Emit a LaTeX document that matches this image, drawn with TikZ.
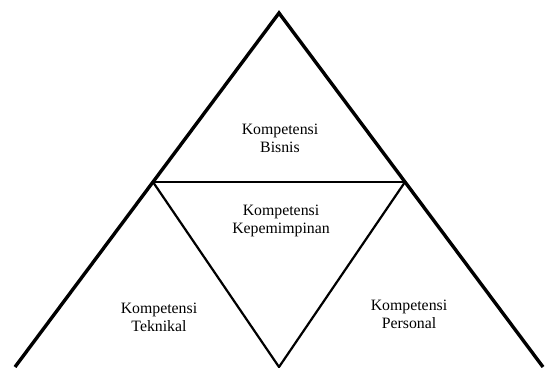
\documentclass[tikz,border=0pt]{standalone}
\usepackage{fontspec}
\setmainfont{Liberation Serif}
\usepackage{tikz}

\begin{document}
\begin{tikzpicture}[
x=1pt,y=1pt,
outer/.style={%
draw,
line width=3.4pt,
line join=miter
},
inner/.style={%
draw,
line width=2.2pt
},
label/.style={%
align=center,
font=\fontsize{15.8}{18}\selectfont
}
]
\useasboundingbox(0,0)rectangle(545,367);
%% Corners
\coordinate(apex)at(279,354);
\coordinate(bl)at(15,0);
\coordinate(br)at(543,0);
\coordinate(ml)at(153,185);
\coordinate(mr)at(405,185);
\coordinate(bm)at(279,0);
%% Outer triangle
\draw[outer](bl)--(apex)--(br);
%% Inner lines
\draw[inner,line width=2.6pt](ml)--(mr);
\draw[inner](ml)--(bm)--(mr);
%% Labels
\node[label]at(280,229)(bisnis){Kompetensi\\Bisnis};
\node[label]at(281,146)(pimpin){Kompetensi\\Kepemimpinan};
\node[label]at(159,50)(teknik){Kompetensi\\Teknikal};
\node[label]at(409,53)(personal){Kompetensi\\Personal};
\end{tikzpicture}
\end{document}
